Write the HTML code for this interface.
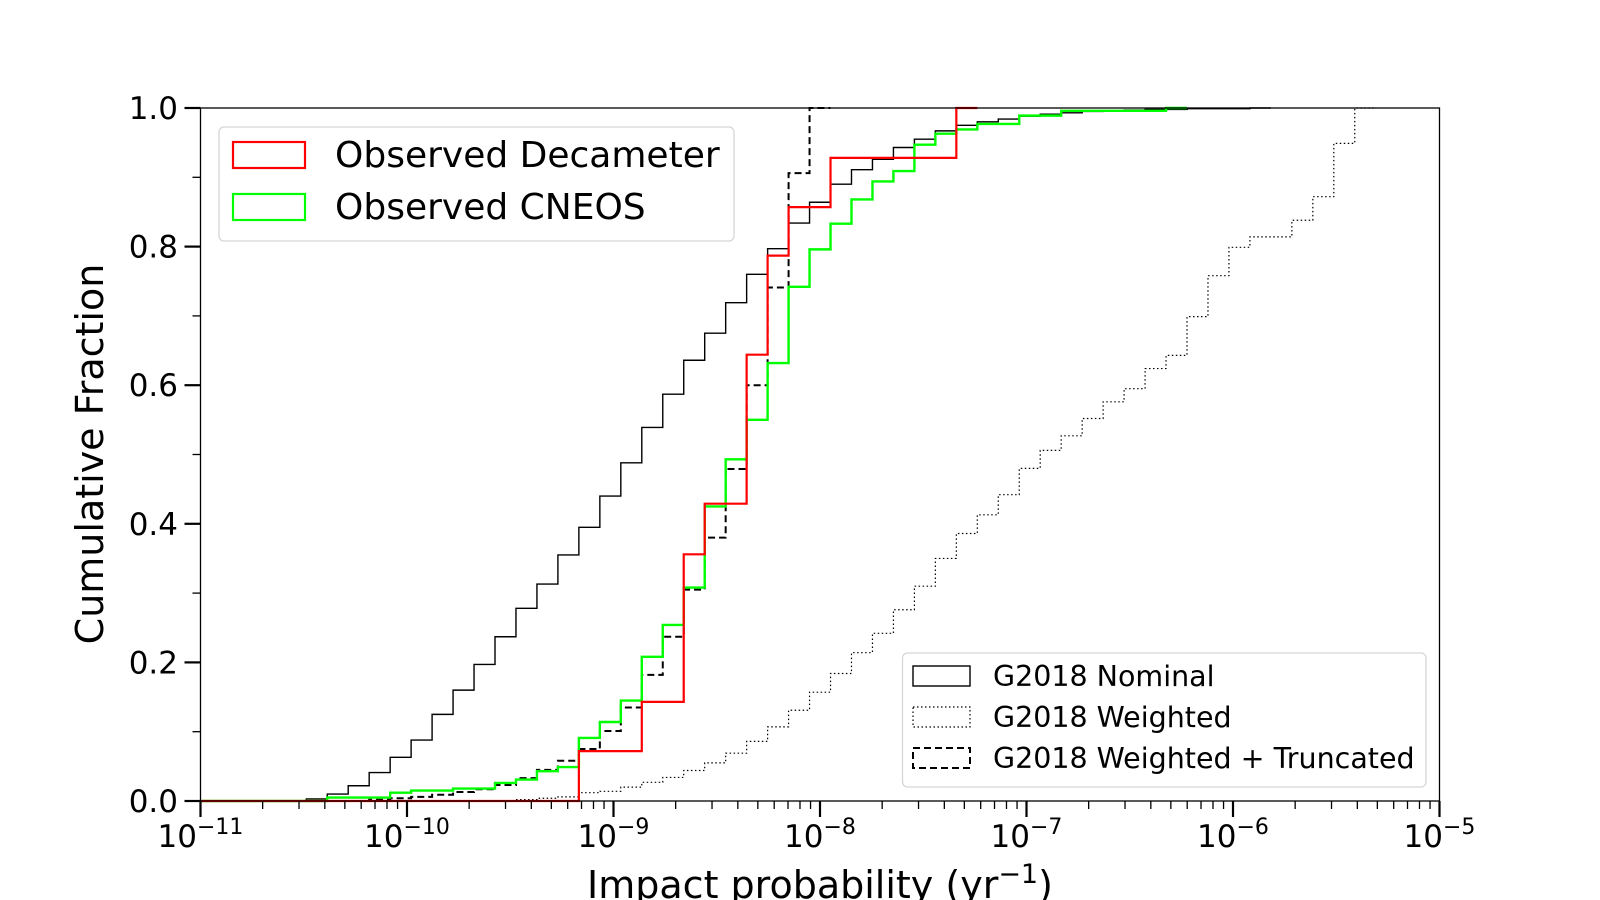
<!DOCTYPE html>
<html><head><meta charset="utf-8"><style>
html,body{margin:0;padding:0;background:#fff;}
svg{display:block;font-family:"DejaVu Sans","Liberation Sans",sans-serif;}
</style></head><body>
<svg id="chart" width="1600" height="900" viewBox="0 0 1600 900" xmlns="http://www.w3.org/2000/svg">
<rect width="1600" height="900" fill="#fff"/>
<g id="series"></g>
<g id="axes"></g>
<g id="legends"></g>
</svg>
<script>
// ---- data ----
const binStartLog = -10.2847;   // log10 of bin edge index 7
const binWidthLog = 0.10155;    // decades per bin
const nominal = [0,0,0,0,0,0.003,0.010,0.022,0.041,0.063,0.088,0.125,0.160,0.197,0.237,0.278,0.313,0.355,0.395,0.440,0.488,0.539,0.587,0.636,0.675,0.719,0.760,0.797,0.834,0.864,0.890,0.911,0.926,0.943,0.955,0.967,0.975,0.980,0.984,0.988,0.991,0.993,0.995,0.996,0.997,0.998,0.998,0.999,0.999,0.999,1.0];
const weighted = [0,0,0,0,0,0,0,0,0,0,0,0,0,0,0,0.002,0.004,0.006,0.012,0.014,0.020,0.027,0.034,0.044,0.055,0.069,0.086,0.107,0.131,0.157,0.184,0.214,0.242,0.276,0.310,0.350,0.386,0.413,0.442,0.480,0.506,0.527,0.552,0.576,0.595,0.624,0.643,0.699,0.758,0.799,0.814,0.814,0.838,0.872,0.949,1.0];
const truncated = [0,0,0,0,0,0,0,0,0.002,0.004,0.006,0.009,0.013,0.017,0.023,0.033,0.045,0.058,0.075,0.101,0.135,0.182,0.237,0.305,0.380,0.479,0.600,0.741,0.906,1.0];
const decameter = [0,0,0,0,0,0,0,0,0,0,0,0,0,0,0,0,0,0,0.072,0.072,0.072,0.143,0.143,0.356,0.429,0.429,0.644,0.787,0.857,0.857,0.928,0.928,0.928,0.928,0.928,0.928,1.0];
const cneos = [0,0,0,0,0,0,0.005,0.005,0.005,0.012,0.015,0.015,0.018,0.018,0.026,0.031,0.043,0.049,0.091,0.114,0.145,0.208,0.254,0.308,0.425,0.493,0.550,0.632,0.742,0.796,0.833,0.868,0.894,0.909,0.947,0.963,0.969,0.977,0.977,0.989,0.989,0.996,0.996,0.996,0.996,0.996,1.0];
const xTickExps = [-11,-10,-9,-8,-7,-6,-5];
const yTicks = [0,0.2,0.4,0.6,0.8,1.0];
const yTickLabels = ["0.0","0.2","0.4","0.6","0.8","1.0"];

// ---- axes functions ----
const X0=200.5, X1=1439.5, Y0=801, Y1=108;
const LMIN=-11, LMAX=-5;
function xLog(l){return X0+(l-LMIN)/(LMAX-LMIN)*(X1-X0);}
function yV(v){return Y0-v*(Y0-Y1);}
function edgeLog(j){return binStartLog+(j-7)*binWidthLog;}
const NS="http://www.w3.org/2000/svg";
function mk(tag,attrs,parent){const e=document.createElementNS(NS,tag);for(const k in attrs)e.setAttribute(k,attrs[k]);parent.appendChild(e);return e;}

const gS=document.getElementById('series');
function drawStep(vals,name,stroke,width,dash){
  let d="";
  for(let j=0;j<vals.length;j++){
    let xa=Math.max(X0,xLog(edgeLog(j))), xb=Math.min(X1,xLog(edgeLog(j+1)));
    const y=yV(vals[j]);
    if(j===0) d+="M"+xa+","+y; else d+="L"+xa+","+y;
    d+="L"+xb+","+y;
  }
  const p=mk('path',{d:d,fill:'none',stroke:stroke,'stroke-width':width,'stroke-linejoin':'miter'},gS);
  if(dash)p.setAttribute('stroke-dasharray',dash);
  
  
}
drawStep(weighted,'g2018-weighted-line','#000',1.2,'1.5,2.5');
drawStep(nominal,'g2018-nominal-line','#000',1.4,null);
drawStep(truncated,'g2018-weighted-truncated-line','#000',2,'7,4');
drawStep(cneos,'observed-cneos-line','#00ff00',2.4,null);
drawStep(decameter,'observed-decameter-line','#ff0000',2.2,null);

// ---- axes ----
const gA=document.getElementById('axes');
const frame=mk('rect',{x:X0,y:Y1,width:X1-X0,height:Y0-Y1,fill:'none',stroke:'#000','stroke-width':1.3},gA);


for(let e=LMIN;e<=LMAX;e++){
  const x=xLog(e);
  mk('line',{x1:x,x2:x,y1:Y0,y2:Y0+16,stroke:'#000','stroke-width':2.2},gA);
  const t=mk('text',{x:x,y:847,'font-size':31,'text-anchor':'middle'},gA);
  
  
  const s1=mk('tspan',{},t); s1.textContent="10";
  const s2=mk('tspan',{dy:-13,'font-size':22},t); s2.textContent="\u2212"+Math.abs(e);
  if(e<LMAX){
    for(let m=2;m<=9;m++){
      const xm=xLog(e+Math.log10(m));
      mk('line',{x1:xm,x2:xm,y1:Y0,y2:Y0+8,stroke:'#000','stroke-width':1.3},gA);
    }
  }
}
yTicks.forEach((v,i)=>{
  const y=yV(v);
  mk('line',{x1:X0-16,x2:X0,y1:y,y2:y,stroke:'#000','stroke-width':2.2},gA);
  const t=mk('text',{x:178,y:y+11,'font-size':31,'text-anchor':'end'},gA);
  t.textContent=yTickLabels[i];
  
  
  if(i<yTicks.length-1){
    const ym=yV(v+0.1);
    mk('line',{x1:X0-8,x2:X0,y1:ym,y2:ym,stroke:'#000','stroke-width':1.3},gA);
  }
});
const yl=mk('text',{x:0,y:0,'font-size':38,'text-anchor':'middle',transform:'translate(103,454) rotate(-90)'},gA);
yl.textContent="Cumulative Fraction";


const xl=mk('text',{x:820,y:898,'font-size':38,'text-anchor':'middle'},gA);


const xa1=mk('tspan',{},xl); xa1.textContent="Impact probability (yr";
const xa2=mk('tspan',{dy:-15,'font-size':27},xl); xa2.textContent="\u22121";
const xa3=mk('tspan',{dy:15},xl); xa3.textContent=")";

// ---- legends ----
const gL=document.getElementById('legends');
const lb1=mk('rect',{x:219,y:127,width:515,height:114,rx:5,fill:'#fff','fill-opacity':0.85,stroke:'#d6d6d6','stroke-width':1.3},gL);


const le1=[["Observed Decameter","#ff0000",142],["Observed CNEOS","#00ff00",194]];
le1.forEach(e=>{
  const r=mk('rect',{x:233,y:e[2],width:72,height:26,fill:'none',stroke:e[1],'stroke-width':2.2},gL);
  
  
  const t=mk('text',{x:335,y:e[2]+25,'font-size':36},gL);
  t.textContent=e[0];
  
  
});
const lb2=mk('rect',{x:902.5,y:653,width:523.5,height:134,rx:5,fill:'#fff','fill-opacity':0.85,stroke:'#d6d6d6','stroke-width':1.3},gL);


const le2=[["G2018 Nominal",null,1.4,666],["G2018 Weighted","1.5,2.5",1.2,707],["G2018 Weighted + Truncated","7,4",2,748]];
le2.forEach(e=>{
  const r=mk('rect',{x:913,y:e[3],width:57,height:20,fill:'none',stroke:'#000','stroke-width':e[2]},gL);
  if(e[1])r.setAttribute('stroke-dasharray',e[1]);
  
  
  const t=mk('text',{x:993,y:e[3]+20,'font-size':28.5},gL);
  t.textContent=e[0];
  
  
});
</script>
</body></html>
